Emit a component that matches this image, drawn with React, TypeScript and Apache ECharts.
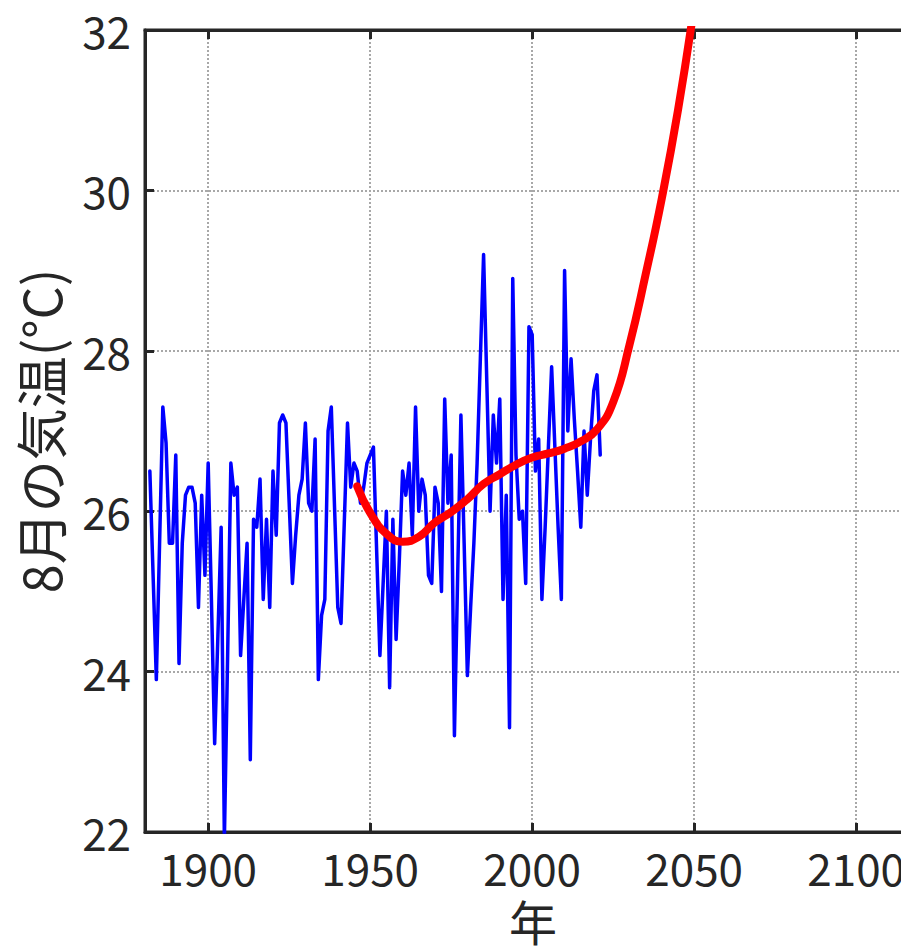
import React, { useEffect, useRef } from "react";
import * as echarts from "echarts";

const FIRST_YEAR = 1882;

// 8月の気温 (°C), 1882–2021
const augustTemps: number[] = [
  26.5, 25.2, 23.9, 25.6, 27.3, 26.85, 25.6, 25.6, 26.7, 24.1, // 1882-1891
  25.6, 26.2, 26.3, 26.3, 26.1, 24.8, 26.2, 25.2, 26.6, 24.9, // 1892-1901
  23.1, 24.45, 25.8, 21.9, 24.2, 26.6, 26.2, 26.3, 24.2, 24.9, // 1902-1911
  25.6, 22.9, 25.9, 25.8, 26.4, 24.9, 25.9, 24.8, 26.5, 25.7, // 1912-1921
  27.1, 27.2, 27.1, 26.1, 25.1, 25.7, 26.2, 26.4, 27.1, 26.1, // 1922-1931
  26.0, 26.9, 23.9, 24.7, 24.9, 27.0, 27.3, 26.05, 24.8, 24.6, // 1932-1941
  25.85, 27.1, 26.3, 26.6, 26.5, 26.1, 26.3, 26.6, 26.7, 26.8, // 1942-1951
  25.5, 24.2, 25.1, 26.0, 23.8, 25.9, 24.4, 25.4, 26.5, 26.2, // 1952-1961
  26.6, 25.7, 27.3, 26.0, 26.4, 26.2, 25.2, 25.1, 26.3, 26.1, // 1962-1971
  25.0, 27.4, 26.1, 26.7, 23.2, 25.2, 27.2, 25.6, 23.95, 24.8, // 1972-1981
  25.6, 26.6, 27.9, 29.2, 27.6, 26.0, 27.2, 26.6, 27.4, 24.9, // 1982-1991
  26.2, 23.3, 28.9, 26.7, 25.9, 26.0, 25.1, 28.3, 28.2, 26.5, // 1992-2001
  26.9, 24.9, 25.8, 26.8, 27.8, 26.8, 25.8, 24.9, 29.0, 27.0, // 2002-2011
  27.9, 27.15, 26.5, 25.8, 27.0, 26.2, 26.9, 27.5, 27.7, 26.7, // 2012-2021
];

// fitted trend curve (red), read every 5 years from the picture
const fitYears: number[] = [
  1946, 1950, 1955, 1960, 1965, 1970, 1975, 1980, 1985, 1990, 1995, 2000,
  2005, 2010, 2015, 2020, 2025, 2030, 2035, 2040, 2045, 2050,
];
const fitTemps: number[] = [
  26.31, 25.98, 25.72, 25.62, 25.68, 25.86, 25.99, 26.15, 26.34, 26.46, 26.58, 26.67,
  26.72, 26.78, 26.87, 27.02, 27.36, 28.07, 28.95, 29.9, 31.0, 32.3,
];

const xTickLabels = [1900, 1950, 2000, 2050, 2100];
const yTickLabels = [22, 24, 26, 28, 30, 32];

const FONT = "'Noto Sans CJK JP', 'Noto Sans', sans-serif";
const INK = "#262626";

export default function App() {
  const ref = useRef<HTMLDivElement>(null);

  useEffect(() => {
    document.body.style.margin = "0";
    const chart = echarts.init(ref.current!, null, { renderer: "svg" });

    const blue = augustTemps.map((v, i) => [FIRST_YEAR + i, v]);
    const red = fitYears.map((y, i) => [y, fitTemps[i]]);

    const gridLine = {
      show: true,
      lineStyle: { color: "#a8a8a8", width: 2, type: [2, 2] as number[] },
    };

    chart.setOption({
      animation: false,
      backgroundColor: "#ffffff",
      grid: {
        left: 145,
        top: 30,
        right: 79,
        bottom: 116,
        show: true,
        borderColor: INK,
        borderWidth: 3,
        backgroundColor: "transparent",
      },
      xAxis: [
        {
          type: "value",
          min: 1880.5,
          max: 2120,
          splitNumber: 5,
          position: "bottom",
          name: "年",
          nameLocation: "middle",
          nameGap: 66,
          nameTextStyle: { fontFamily: FONT, fontSize: 48, lineHeight: 44, color: INK },
          axisLine: { show: true, lineStyle: { color: INK, width: 3 } },
          axisTick: { show: true, inside: true, length: 9, lineStyle: { color: INK, width: 3 } },
          axisLabel: {
            showMinLabel: false,
            showMaxLabel: false,
            margin: 16,
            fontFamily: FONT,
            fontSize: 44,
            lineHeight: 38,
            color: INK,
            formatter: (v: number) => (xTickLabels.includes(v) ? String(v) : ""),
          },
          splitLine: gridLine,
        },
        {
          type: "value",
          min: 1880.5,
          max: 2120,
          splitNumber: 5,
          position: "top",
          axisLine: { show: true, lineStyle: { color: INK, width: 3 } },
          axisTick: { show: true, inside: true, length: 9, lineStyle: { color: INK, width: 3 } },
          axisLabel: { show: false },
          splitLine: { show: false },
        },
      ],
      yAxis: {
        type: "value",
        min: 22,
        max: 32,
        interval: 2,
        name: "8月の気温(°C)",
        nameLocation: "middle",
        nameGap: 80,
        nameRotate: 90,
        nameTextStyle: { fontFamily: FONT, fontSize: 52, color: INK },
        axisLine: { show: true, lineStyle: { color: INK, width: 3 } },
        axisTick: { show: true, inside: true, length: 9, lineStyle: { color: INK, width: 3 } },
        axisLabel: {
          margin: 14,
          fontFamily: FONT,
          fontSize: 44,
          lineHeight: 38,
          color: INK,
          formatter: (v: number) => (yTickLabels.includes(v) ? String(v) : ""),
        },
        splitLine: gridLine,
      },
      series: [
        {
          type: "line",
          data: blue,
          xAxisIndex: 0,
          showSymbol: false,
          symbol: "none",
          clip: true,
          lineStyle: { color: "#0000ff", width: 3.5, join: "round", cap: "round" },
          z: 3,
        },
        {
          type: "line",
          data: red,
          xAxisIndex: 0,
          smooth: 0.5,
          showSymbol: false,
          symbol: "none",
          clip: true,
          lineStyle: { color: "#ff0000", width: 8, cap: "round", join: "round" },
          z: 4,
        },
      ],
    });

    return () => chart.dispose();
  }, []);

  return (
    <div style={{ width: 901, height: 949, overflow: "hidden", position: "relative" }}>
      <div ref={ref} style={{ width: 1000, height: 949 }} />
    </div>
  );
}
